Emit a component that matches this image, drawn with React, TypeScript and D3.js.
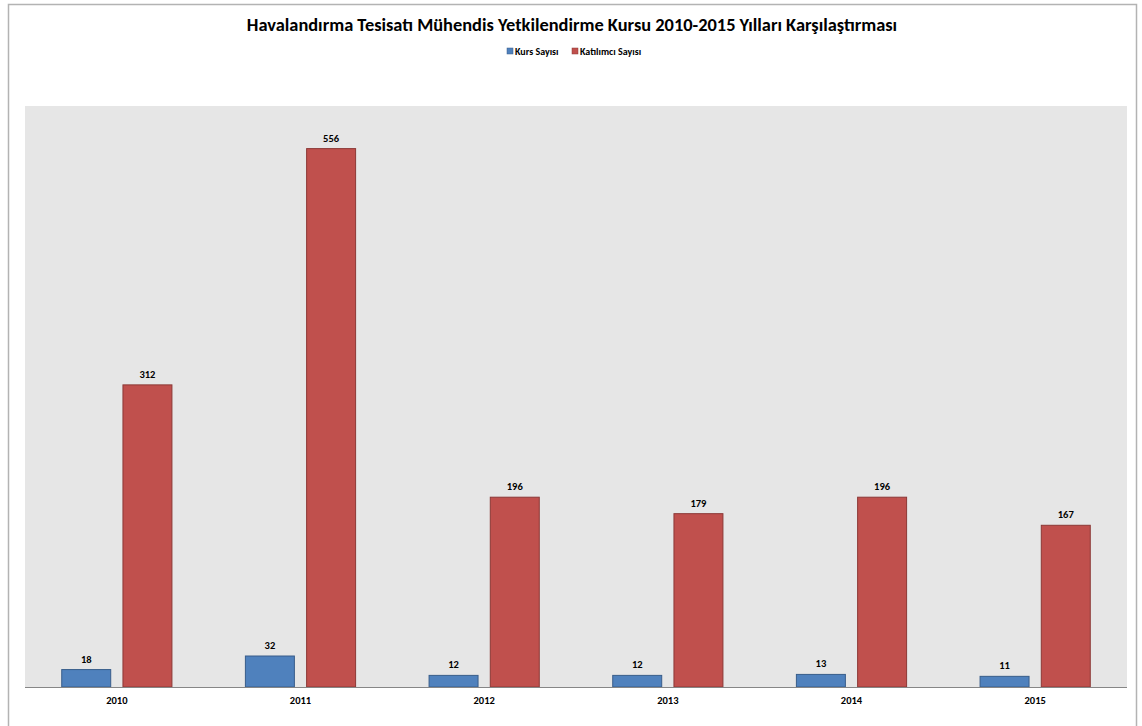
import * as d3 from 'd3';

const years = ['2010', '2011', '2012', '2013', '2014', '2015'];
const kursSayisi = [18, 32, 12, 12, 13, 11];
const katilimciSayisi = [312, 556, 196, 179, 196, 167];
const seriesNames = ['Kurs Sayısı', 'Katılımcı Sayısı'];
const title = 'Havalandırma Tesisatı Mühendis Yetkilendirme Kursu 2010-2015 Yılları Karşılaştırması';

const fills = ['#4f81bd', '#c0504d'];
const strokes = ['#385d8a', '#8c3836'];
const font = 'Carlito, Calibri, "Open Sans", sans-serif';

export default function App() {
  const width = 1142;
  const height = 726;
  const plot = { left: 25, right: 1127, top: 106, bottom: 687 };

  const x0 = d3.scaleBand().domain(years).range([plot.left, plot.right]).paddingInner(0.4).paddingOuter(0.2);
  const x1 = d3.scaleBand().domain(seriesNames).range([0, x0.bandwidth()]).paddingInner(0.2);
  const y = d3.scaleLinear().domain([0, 600]).range([plot.bottom, plot.top]);

  const series = [kursSayisi, katilimciSayisi];

  return (
    <div style={{ position: 'absolute', left: 0, top: 0 }}>
      <svg width={width} height={height} style={{ display: 'block', fontFamily: font }}>
        <rect x={0} y={0} width={width} height={height} fill="#fff" />
        <rect x={8.5} y={4.5} width={1128} height={740} fill="#fff" stroke="#b3b3b3" strokeWidth={1.5} />
        <text x={572} y={31} textAnchor="middle" fontSize={18.4} fontWeight="bold" fill="#000">
          {title}
        </text>
        <g fontSize={10} fontWeight="bold" fill="#000">
          <rect x={507} y={48} width={6} height={6} fill={fills[0]} stroke={strokes[0]} strokeWidth={0.5} />
          <text x={515} y={55}>{seriesNames[0]}</text>
          <rect x={572} y={48} width={6} height={6} fill={fills[1]} stroke={strokes[1]} strokeWidth={0.5} />
          <text x={580} y={55}>{seriesNames[1]}</text>
        </g>
        <rect x={plot.left} y={plot.top} width={plot.right - plot.left} height={plot.bottom - plot.top} fill="#e6e6e6" />
        {years.map((yr, i) => (
          <g key={yr} transform={`translate(${x0(yr)},0)`}>
            {seriesNames.map((s, j) => {
              const v = series[j][i];
              const bx = x1(s) as number;
              return (
                <g key={s}>
                  <rect
                    x={bx}
                    y={y(v)}
                    width={x1.bandwidth()}
                    height={y(0) - y(v)}
                    fill={fills[j]}
                    stroke={strokes[j]}
                    strokeWidth={1}
                  />
                  <text
                    x={bx + x1.bandwidth() / 2}
                    y={y(v) - 7}
                    textAnchor="middle"
                    fontSize={10.5}
                    fontWeight="bold"
                    fill="#000"
                  >
                    {v}
                  </text>
                </g>
              );
            })}
            <text x={x0.bandwidth() / 2} y={704} textAnchor="middle" fontSize={10.5} fontWeight="bold" fill="#000">
              {yr}
            </text>
          </g>
        ))}
        <line x1={plot.left} x2={plot.right} y1={plot.bottom + 0.5} y2={plot.bottom + 0.5} stroke="#868686" strokeWidth={1} />
      </svg>
    </div>
  );
}
